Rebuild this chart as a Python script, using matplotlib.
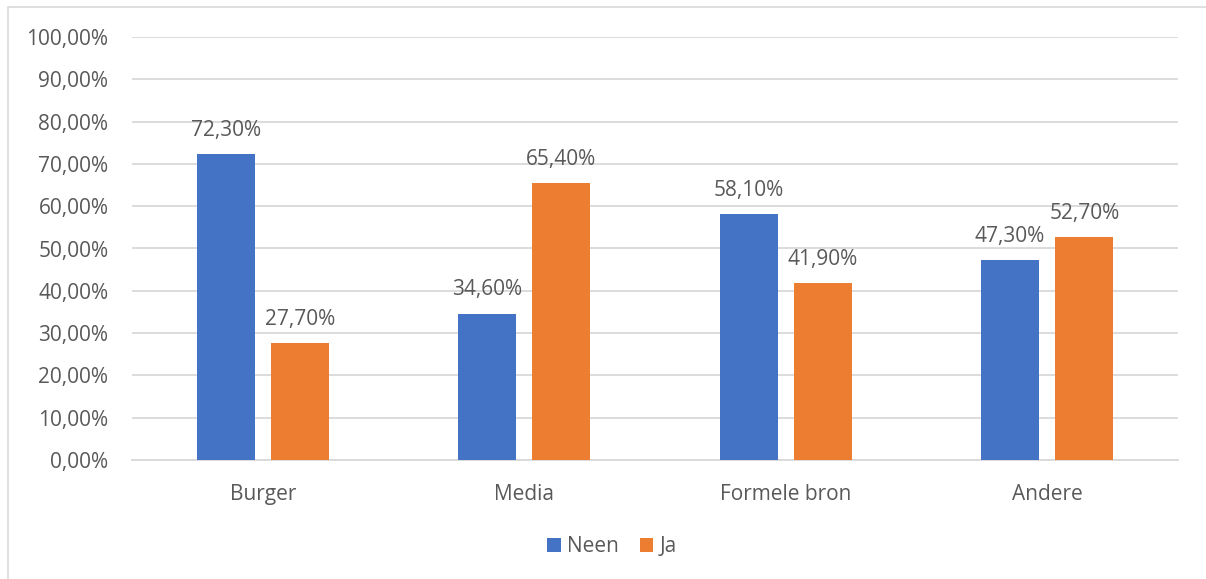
import numpy as np
import matplotlib
matplotlib.use("Agg")
import matplotlib.pyplot as plt
from matplotlib.patches import Rectangle
from matplotlib.ticker import FuncFormatter

categories = ["Burger", "Media", "Formele bron", "Andere"]
neen = [72.3, 34.6, 58.1, 47.3]
ja = [27.7, 65.4, 41.9, 52.7]
series_names = ["Neen", "Ja"]

BLUE = "#4472C4"
ORANGE = "#ED7D31"
GREY_TEXT = "#595959"
GRID = "#D9D9D9"
FS = 15

plt.rcParams['font.family'] = ['Open Sans', 'DejaVu Sans']
plt.rcParams['font.size'] = FS

fig = plt.figure(figsize=(12.06, 5.79), dpi=100)
ax = fig.add_axes([132 / 1206, 1 - 460 / 579, (1178 - 132) / 1206, (460 - 37) / 579])

# chart frame (right and bottom edges run off the image)
fig.patches.append(Rectangle((8 / 1206, -0.1), 1.2, 1 - 7 / 579 + 0.1,
                             transform=fig.transFigure, fill=False,
                             edgecolor=GRID, linewidth=1.2, zorder=0))

x = np.arange(len(categories))
width = 0.222
offset = 0.142

bars_neen = ax.bar(x - offset, neen, width, color=BLUE, label=series_names[0], zorder=3)
bars_ja = ax.bar(x + offset, ja, width, color=ORANGE, label=series_names[1], zorder=3)


def pct(v):
    return f"{v:.2f}%".replace(".", ",")


for bars, vals in [(bars_neen, neen), (bars_ja, ja)]:
    for bar, v in zip(bars, vals):
        ax.annotate(pct(v), (bar.get_x() + bar.get_width() / 2, v),
                    xytext=(0, 9.5), textcoords="offset points",
                    ha="center", va="bottom", color=GREY_TEXT, fontsize=FS)

ax.set_xlim(-0.5, len(categories) - 0.5)
ax.set_ylim(0, 100)
ax.set_yticks(np.arange(0, 101, 10))
ax.yaxis.set_major_formatter(FuncFormatter(lambda v, _: pct(v)))
ax.set_xticks(x)
ax.set_xticklabels(categories)

ax.grid(axis="y", color=GRID, linewidth=1.3, zorder=0)
for s in ["top", "right", "left"]:
    ax.spines[s].set_visible(False)
ax.spines["bottom"].set_color(GRID)
ax.spines["bottom"].set_linewidth(1.3)
ax.tick_params(axis="y", length=0, pad=17, colors=GREY_TEXT, labelsize=FS)
ax.tick_params(axis="x", length=0, pad=17, colors=GREY_TEXT, labelsize=FS)

leg = fig.legend(loc="center", bbox_to_anchor=(612 / 1206, 1 - 547 / 579), ncol=2,
                 frameon=False, handlelength=0.65, handleheight=0.65,
                 handletextpad=0.3, columnspacing=1.0, fontsize=FS)
for t in leg.get_texts():
    t.set_color(GREY_TEXT)

fig.savefig("out.png", dpi=100)
